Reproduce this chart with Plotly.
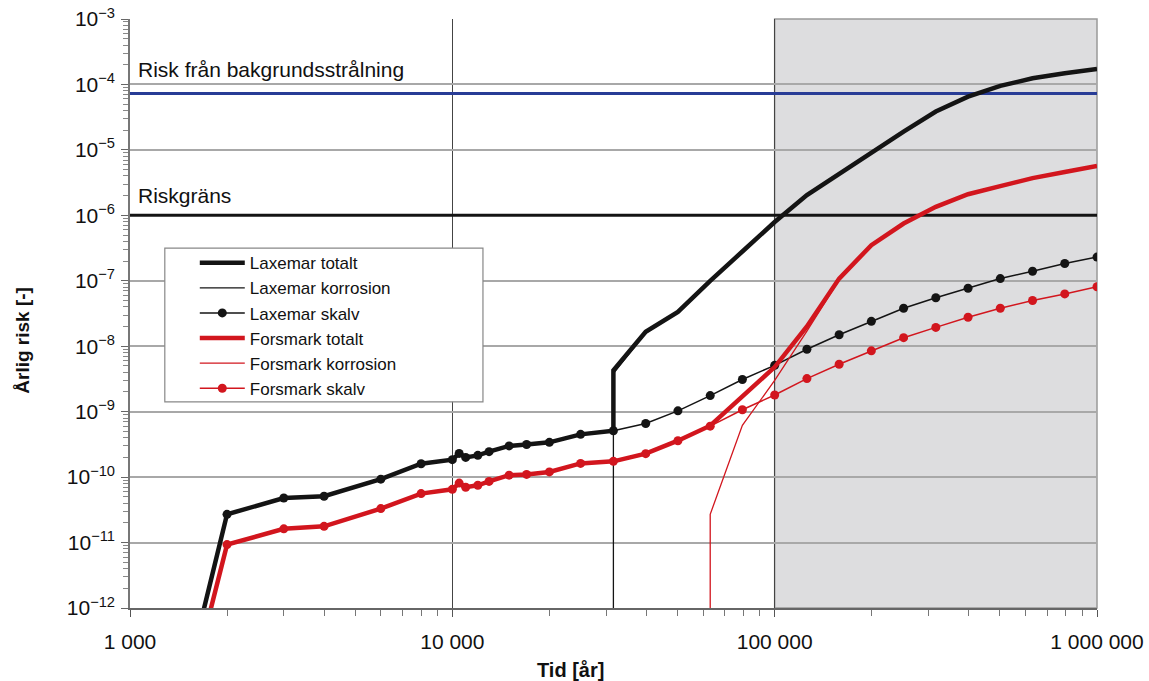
import plotly.graph_objects as go

# ---------------- data ----------------
# time steps [years]
t_early = [1585, 2000, 3000, 4000, 6000, 8000, 10000, 10500, 11000, 12000, 13000,
           15000, 17000, 20000, 25000, 31600]
t_late = [39800, 50100, 63100, 79400, 100000, 125900, 158500, 199500, 251200,
          316200, 398100, 501200, 631000, 794300, 1000000]

# Laxemar
lax_skalv_early = [2.5e-13, 2.7e-11, 4.8e-11, 5.1e-11, 9.3e-11, 1.6e-10, 1.85e-10, 2.3e-10,
                   2.0e-10, 2.15e-10, 2.45e-10, 3.0e-10, 3.15e-10, 3.4e-10, 4.5e-10, 5.1e-10]
lax_skalv_late = [6.6e-10, 1.03e-9, 1.76e-9, 3.1e-9, 5.1e-9, 9.0e-9, 1.5e-8, 2.4e-8, 3.8e-8,
                  5.5e-8, 7.7e-8, 1.08e-7, 1.4e-7, 1.84e-7, 2.3e-7]
lax_tot_jump = 4.3e-9          # value right after the step at 31 600 years
lax_tot_late = [1.66e-8, 3.35e-8, 1.0e-7, 2.8e-7, 7.9e-7, 2.04e-6, 4.3e-6, 9.4e-6, 1.9e-5,
                3.85e-5, 6.5e-5, 9.5e-5, 1.24e-4, 1.48e-4, 1.72e-4]
lax_korr_start = [1e-14, 3.8e-9]   # at 31 600 years
lax_korr_late = [1.6e-8, 3.25e-8, 9.8e-8, 2.77e-7, 7.85e-7, 2.03e-6, 4.29e-6, 9.38e-6, 1.9e-5,
                 3.85e-5, 6.5e-5, 9.5e-5, 1.24e-4, 1.48e-4, 1.72e-4]

# Forsmark
fm_skalv_early = [1e-13, 9.3e-12, 1.62e-11, 1.77e-11, 3.3e-11, 5.6e-11, 6.5e-11, 8.1e-11,
                  7.0e-11, 7.5e-11, 8.6e-11, 1.07e-10, 1.1e-10, 1.2e-10, 1.62e-10, 1.74e-10]
fm_skalv_late = [2.28e-10, 3.6e-10, 6.0e-10, 1.07e-9, 1.8e-9, 3.2e-9, 5.3e-9, 8.5e-9, 1.35e-8,
                 1.94e-8, 2.77e-8, 3.8e-8, 5.0e-8, 6.3e-8, 8.1e-8]
fm_tot_late = [2.28e-10, 3.6e-10, 6.1e-10, 1.75e-9, 4.8e-9, 2.0e-8, 1.08e-7, 3.5e-7, 7.5e-7,
               1.35e-6, 2.1e-6, 2.8e-6, 3.7e-6, 4.6e-6, 5.7e-6]
fm_korr_t = [63100, 63100, 79400, 100000, 125900, 158500, 199500, 251200, 316200, 398100,
             501200, 631000, 794300, 1000000]
fm_korr = [1e-14, 2.7e-11, 6.2e-10, 3.0e-9, 1.7e-8, 1.03e-7, 3.4e-7, 7.4e-7, 1.33e-6, 2.07e-6,
           2.76e-6, 3.65e-6, 4.54e-6, 5.6e-6]

# reference levels
time_span = [1000, 1000000]
background_risk = 7.3e-5
risk_limit = 1e-6

# axis ticks
x_tickvals = [1000, 10000, 100000, 1000000]
x_ticktext = ["1 000", "10 000", "100 000", "1 000 000"]
y_exponents = list(range(-12, -2))

# ---------------- styling ----------------
BLACK = "#141414"
RED = "#d2161e"
BLUE = "#283c96"
FONT = "Liberation Sans, Arial, sans-serif"

fig = go.Figure()

# reference lines
fig.add_trace(go.Scatter(x=time_span, y=[background_risk] * 2, mode="lines",
                         line=dict(color=BLUE, width=3), showlegend=False, hoverinfo="skip"))
fig.add_trace(go.Scatter(x=time_span, y=[risk_limit] * 2, mode="lines",
                         line=dict(color=BLACK, width=3), showlegend=False, hoverinfo="skip"))

t_skalv = t_early + t_late

# Laxemar
fig.add_trace(go.Scatter(x=[31600, 31600] + t_late, y=lax_korr_start + lax_korr_late,
                         mode="lines", name="Laxemar korrosion", legendrank=2,
                         line=dict(color=BLACK, width=1.3)))
fig.add_trace(go.Scatter(x=t_early + [31600] + t_late,
                         y=lax_skalv_early + [lax_tot_jump] + lax_tot_late,
                         mode="lines", name="Laxemar totalt", legendrank=1,
                         line=dict(color=BLACK, width=4.5)))
fig.add_trace(go.Scatter(x=t_skalv, y=lax_skalv_early + lax_skalv_late,
                         mode="lines+markers", name="Laxemar skalv", legendrank=3,
                         line=dict(color=BLACK, width=1.5),
                         marker=dict(color=BLACK, size=9)))

# Forsmark
fig.add_trace(go.Scatter(x=fm_korr_t, y=fm_korr, mode="lines", name="Forsmark korrosion",
                         legendrank=5, line=dict(color=RED, width=1.3)))
fig.add_trace(go.Scatter(x=t_skalv, y=fm_skalv_early + fm_tot_late,
                         mode="lines", name="Forsmark totalt", legendrank=4,
                         line=dict(color=RED, width=4.5)))
fig.add_trace(go.Scatter(x=t_skalv, y=fm_skalv_early + fm_skalv_late,
                         mode="lines+markers", name="Forsmark skalv", legendrank=6,
                         line=dict(color=RED, width=1.5),
                         marker=dict(color=RED, size=9)))

# minor tick positions
x_minor = [m * 10 ** e for e in range(3, 6) for m in range(2, 10)]
y_minor = [m * 10.0 ** e for e in range(-12, -3) for m in range(2, 10)]

fig.update_layout(
    width=1149, height=681,
    margin=dict(l=130, r=52, t=19, b=73),
    paper_bgcolor="white", plot_bgcolor="white",
    font=dict(family=FONT, color="#111"),
    showlegend=True,
    legend=dict(x=0.067, y=0.616, xanchor="left", yanchor="top",
                bgcolor="rgba(0,0,0,0)", borderwidth=0,
                font=dict(size=17, family=FONT, color="#111"),
                itemwidth=45, tracegroupgap=0),
    xaxis=dict(type="log", range=[3, 6], automargin=False,
               tickvals=x_tickvals, ticktext=x_ticktext,
               tickfont=dict(size=21, family=FONT, color="#111"),
               ticks="outside", ticklen=7, tickcolor="#555", ticklabelstandoff=7,
               showgrid=True, gridcolor="#444", gridwidth=1,
               showline=True, linecolor="#666", linewidth=2,
               minor=dict(tickvals=x_minor, ticks="outside", ticklen=6, tickcolor="#777",
                          showgrid=False),
               zeroline=False),
    yaxis=dict(type="log", range=[-12, -3], automargin=False,
               tickvals=[10.0 ** e for e in y_exponents],
               ticktext=["10<sup>\u2212%d</sup>" % (-e) for e in y_exponents],
               tickfont=dict(size=21, family=FONT, color="#111"),
               ticks="outside", ticklen=7, tickcolor="#666", ticklabelstandoff=2,
               showgrid=True, gridcolor="#a8a8a8", gridwidth=1.6,
               showline=True, linecolor="#777", linewidth=1.5,
               minor=dict(tickvals=y_minor, ticks="outside", ticklen=5, tickcolor="#888",
                          showgrid=False),
               zeroline=False),
    shapes=[
        dict(type="rect", xref="paper", yref="paper", x0=2 / 3, x1=1, y0=0, y1=1,
             fillcolor="#dddddf", line=dict(color="#999", width=1.5), layer="below"),
        dict(type="rect", xref="paper", yref="paper", x0=0.036, x1=0.365, y0=0.35, y1=0.611,
             fillcolor="white", line=dict(color="#888", width=1.2), layer="above"),
    ],
    annotations=[
        dict(text="Risk från bakgrundsstrålning", xref="paper", yref="paper",
             x=0.006, y=0.914, xanchor="left", yanchor="middle", showarrow=False,
             font=dict(size=21, family=FONT, color="#111")),
        dict(text="Riskgräns", xref="paper", yref="paper",
             x=0.006, y=0.700, xanchor="left", yanchor="middle", showarrow=False,
             font=dict(size=21, family=FONT, color="#111")),
        dict(text="<b>Tid [år]</b>", xref="paper", yref="paper",
             x=0.456, y=-0.105, xanchor="center", yanchor="middle", showarrow=False,
             font=dict(size=20, family=FONT, color="#111")),
        dict(text="<b>Årlig risk [-]</b>", xref="paper", yref="paper",
             x=-0.112, y=0.455, xanchor="center", yanchor="middle", showarrow=False,
             textangle=-90, font=dict(size=19, family=FONT, color="#111")),
    ],
)

fig.write_html("out.html", config={"displayModeBar": False},
               post_script="document.body.style.margin='0px';document.body.style.overflow='hidden';")
